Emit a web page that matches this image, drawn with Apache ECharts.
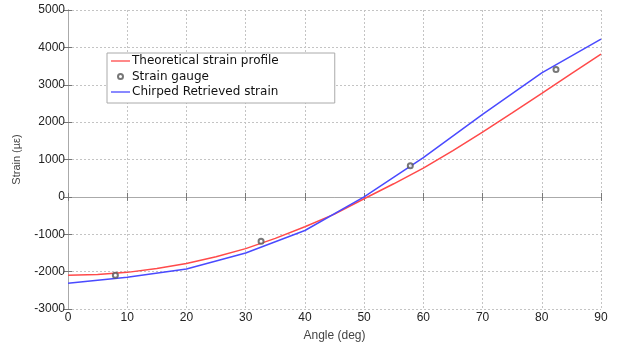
<!DOCTYPE html>
<html><head><meta charset="utf-8">
<script src="https://cdn.jsdelivr.net/npm/echarts@6/dist/echarts.min.js"></script>
<style>html,body{margin:0;padding:0;background:#fff}#c{width:622px;height:347px}</style>
</head><body><div id="c"></div>
<script>
var theoAngles = [0,5,10,15,20,25,30,35,40,45,50,55,60,65,70,75,80,85,90];
var theoStrain = [-2100,-2075,-2020,-1915,-1780,-1600,-1385,-1110,-800,-460,-50,350,770,1240,1735,2250,2770,3300,3820];
var chirpAngles = [0,10,20,30,40,50,60,70,80,90];
var chirpStrain = [-2310,-2150,-1930,-1500,-900,0,1050,2210,3320,4220];
var gaugeAngles = [8,32.6,57.8,82.4];
var gaugeStrain = [-2100,-1185,830,3410];
var xTicks = [0,10,20,30,40,50,60,70,80,90];
var yTicks = [-3000,-2000,-1000,0,1000,2000,3000,4000,5000];

function pairs(a,b){return a.map(function(v,i){return [v,b[i]];});}
var FONT = 'Liberation Sans';
var chart = echarts.init(document.getElementById('c'), null, {renderer:'canvas'});
var splitStyle = {show:true, lineStyle:{color:'#c4c4c4', type:[2,2], width:1}};
var tickStyle = {show:true, inside:true, length:4, lineStyle:{color:'#777'}};
var lineIcon = 'path://M0,0 L19,0 L19,1.3 L0,1.3 Z';
chart.setOption({
  animation:false,
  backgroundColor:'#fff',
  grid:{left:68, right:21, top:10, bottom:34, containLabel:false},
  legend:{
    left:107, top:53, orient:'vertical',
    backgroundColor:'#fff', borderColor:'#aaa', borderWidth:1,
    padding:[1,56,4,4], itemGap:1.5, itemWidth:19, itemHeight:5,
    textStyle:{fontFamily:'DejaVu Sans', fontSize:12, color:'#111', lineHeight:14, padding:[0,0,0,-3]},
    data:[{name:'Theoretical strain profile', icon:lineIcon},{name:'Strain gauge'},{name:'Chirped Retrieved strain', icon:lineIcon}]
  },
  xAxis:[{
    type:'value', min:0, max:90, interval:10,
    name:'Angle (deg)', nameLocation:'middle', nameGap:21,
    nameTextStyle:{fontFamily:FONT, fontSize:12, color:'#444'},
    axisLine:{show:true, lineStyle:{color:'#aaa'}},
    axisTick:tickStyle,
    axisLabel:{fontFamily:FONT, fontSize:12, color:'#222', margin:3, formatter:function(v){return String(v);}},
    splitLine:splitStyle
  },{
    type:'value', min:0, max:90, interval:10, position:'top',
    axisLine:{show:true, lineStyle:{color:'#aaa'}},
    axisTick:tickStyle, axisLabel:{show:false}, splitLine:{show:false}
  }],
  yAxis:[{
    type:'value', min:-3000, max:5000, interval:1000,
    name:'Strain (\u00b5\u03b5)', nameLocation:'middle', nameGap:46,
    nameTextStyle:{fontFamily:FONT, fontSize:11, color:'#444'},
    axisLine:{show:true, lineStyle:{color:'#aaa'}},
    axisTick:tickStyle,
    axisLabel:{fontFamily:FONT, fontSize:12, color:'#222', margin:3, formatter:function(v){return String(v);}},
    splitLine:splitStyle
  },{
    type:'value', min:-3000, max:5000, interval:1000, position:'right',
    axisLine:{show:true, lineStyle:{color:'#aaa'}},
    axisTick:tickStyle, axisLabel:{show:false}, splitLine:{show:false}
  }],
  series:[{
    name:'Theoretical strain profile', type:'line', data:pairs(theoAngles,theoStrain),
    symbol:'none', lineStyle:{color:'#ff4a4a', width:1.5}, itemStyle:{color:'#ff4a4a'}, z:3
  },{
    name:'Strain gauge', type:'scatter', data:pairs(gaugeAngles,gaugeStrain),
    symbol:'emptyCircle', symbolSize:5,
    itemStyle:{color:'#555', borderWidth:1}, z:5
  },{
    name:'Chirped Retrieved strain', type:'line', data:pairs(chirpAngles,chirpStrain),
    symbol:'none', lineStyle:{color:'#4a4aff', width:1.5}, itemStyle:{color:'#4a4aff'}, z:4
  }]
});
</script></body></html>
